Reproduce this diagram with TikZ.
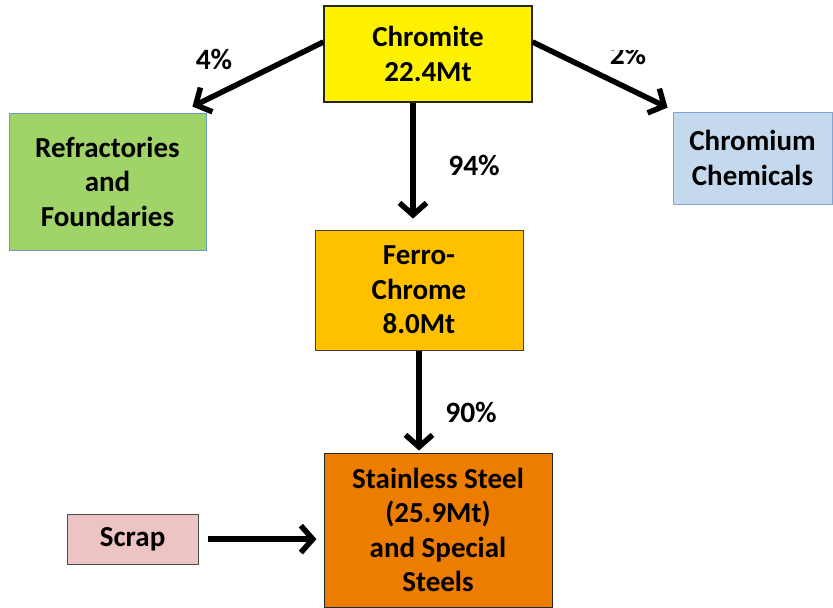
\documentclass[tikz,border=0pt]{standalone}
\usepackage{fontspec}
\setmainfont{Carlito}
\usetikzlibrary{positioning,arrows.meta}

\tikzset{box/.style={draw, rectangle, align=center, inner sep=0pt, font=\fontsize{29}{34.5}\selectfont\bfseries}}
\tikzset{flow/.style={line width=5.5pt, -{Straight Barb[length=12pt,width=27pt,line width=5.5pt]}}}
\tikzset{pct/.style={inner sep=0pt, font=\fontsize{29.5}{32}\selectfont\bfseries}}

\begin{document}
\begin{tikzpicture}[x=1pt,y=-1pt,node distance=127pt]
    \useasboundingbox (0,0) rectangle (833,608);

    \node[box, fill=yellow, draw=black!85, line width=1.2pt, minimum width=208pt, minimum height=96pt] (chromite) at (428,54) {Chromite\\22.4Mt};

    \node[box, fill={rgb,255:red,160;green,212;blue,104}, draw={rgb,255:red,110;green,156;blue,200}, line width=0.8pt, minimum width=197pt, minimum height=137pt] (refr) at (107.5,181.5) {Refractories\\and\\Foundaries};
    \node[box, fill={rgb,255:red,197;green,217;blue,238}, draw={rgb,255:red,130;green,165;blue,205}, line width=0.8pt, minimum width=159pt, minimum height=92pt] (chem) at (752.5,158) {Chromium\\Chemicals};

    \node[box, fill={rgb,255:red,255;green,192;blue,0}, draw=black!75, line width=1pt, minimum width=208pt, minimum height=120pt] (ferro) [below=127pt of chromite, xshift=-9pt] {Ferro-\\Chrome\\8.0Mt};
    \node[box, fill={rgb,255:red,237;green,125;blue,0}, draw=black!85, line width=1pt, minimum width=228pt, minimum height=154pt] (steel) [below=102pt of ferro, xshift=19pt] {Stainless Steel\\(25.9Mt)\\and Special\\Steels};
    \node[box, fill={rgb,255:red,235;green,196;blue,195}, draw=black!70, line width=0.8pt, minimum width=131pt, minimum height=50pt] (scrap) [left=125pt of steel, yshift=-9pt] {Scrap};

    \draw[flow] ([yshift=12pt]chromite.west) -- ([xshift=-14pt,yshift=6pt]refr.north east);
    \draw[flow] ([yshift=12pt]chromite.east) -- ([xshift=-5pt,yshift=4pt]chem.north west);
    \draw[flow] ([xshift=-15pt]chromite.south) -- ([xshift=-6pt,yshift=11pt]ferro.north);
    \draw[flow] (ferro.south) -- ([yshift=2pt]ferro.south |- steel.north);
    \draw[flow] ([xshift=9pt]scrap.east) -- ([xshift=-7pt]scrap.east -| steel.west);

    \node[pct] (p4) at (214,59) {4\%};
    \begin{scope}
        \clip (560,50) rectangle (700,80);
        \node[pct] (p2) at (628,54) {2\%};
    \end{scope}
    \node[pct] (p94) at (474,165) {94\%};
    \node[pct] (p90) at (471,412) {90\%};
\end{tikzpicture}
\end{document}
